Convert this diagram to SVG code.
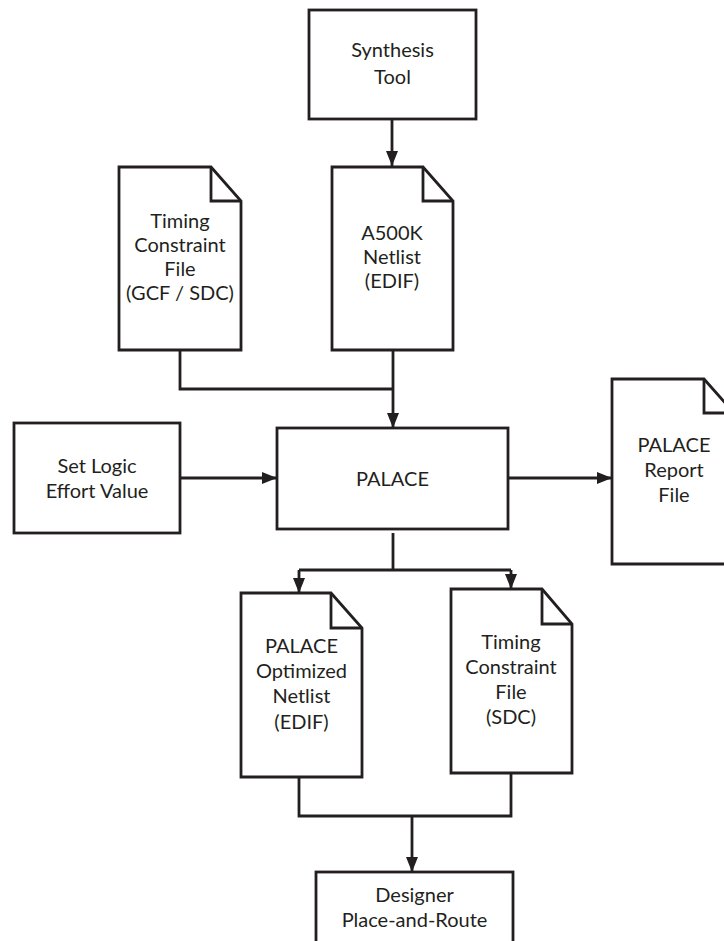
<svg xmlns="http://www.w3.org/2000/svg" width="724" height="941" viewBox="0 0 724 941">
<defs>
<style>
.box{fill:#fff;stroke:#231f20;stroke-width:2.8}
.fold{fill:none;stroke:#231f20;stroke-width:2.8}
.t{font-family:Lato,"Open Sans",sans-serif;font-size:20px;fill:#231f20;text-anchor:middle}
.c{fill:none;stroke:#231f20;stroke-width:2.8}
</style>
<marker id="ah" markerUnits="userSpaceOnUse" markerWidth="15" markerHeight="12" refX="15" refY="6" orient="auto">
<path d="M0,0 L15,6 L0,12 Z" fill="#231f20"/>
</marker>
</defs>
<rect width="724" height="941" fill="#fff"/>
<g id="connectors">
<path class="c" d="M392,119 V166" marker-end="url(#ah)"/>
<path class="c" d="M180,350 V389 H393"/>
<path class="c" d="M393,350 V428" marker-end="url(#ah)"/>
<path class="c" d="M180,478 H277" marker-end="url(#ah)"/>
<path class="c" d="M508,478 H612" marker-end="url(#ah)"/>
<path class="c" d="M393,533 V570"/>
<path class="c" d="M299,570 H511"/>
<path class="c" d="M299,570 V593" marker-end="url(#ah)"/>
<path class="c" d="M511,570 V589" marker-end="url(#ah)"/>
<path class="c" d="M299,777 V816 H511 V773"/>
<path class="c" d="M412,816 V872" marker-end="url(#ah)"/>
</g>
<g id="synthesis">
<rect class="box" x="309" y="10" width="167" height="109"/>
<text class="t" x="392.5" y="57">Synthesis</text>
<text class="t" x="392.5" y="84">Tool</text>
</g>
<g id="timing-gcf">
<path class="box" d="M119,167 H211 L241,201 V350 H119 Z"/>
<path class="fold" d="M211,167 V201 H241"/>
<text class="t" x="180" y="228">Timing</text>
<text class="t" x="180" y="252">Constraint</text>
<text class="t" x="180" y="276">File</text>
<text class="t" x="180" y="300">(GCF / SDC)</text>
</g>
<g id="netlist">
<path class="box" d="M332,167 H423 L453,201 V350 H332 Z"/>
<path class="fold" d="M423,167 V201 H453"/>
<text class="t" x="392" y="240">A500K</text>
<text class="t" x="392" y="264">Netlist</text>
<text class="t" x="392" y="288">(EDIF)</text>
</g>
<g id="set-logic">
<rect class="box" x="14" y="423" width="166" height="110"/>
<text class="t" x="97" y="473">Set Logic</text>
<text class="t" x="97" y="498">Effort Value</text>
</g>
<g id="palace">
<rect class="box" x="277" y="428" width="231" height="101"/>
<text class="t" x="392.5" y="486">PALACE</text>
</g>
<g id="report">
<path class="box" d="M612,379 H704 L734,413 V564 H612 Z"/>
<path class="fold" d="M704,379 V413 H734"/>
<text class="t" x="674" y="452">PALACE</text>
<text class="t" x="674" y="477">Report</text>
<text class="t" x="674" y="502">File</text>
</g>
<g id="optimized">
<path class="box" d="M241,593 H331 L362,628 V777 H241 Z"/>
<path class="fold" d="M331,593 V628 H362"/>
<text class="t" x="301.5" y="653">PALACE</text>
<text class="t" x="301.5" y="678">Optimized</text>
<text class="t" x="301.5" y="703">Netlist</text>
<text class="t" x="301.5" y="729">(EDIF)</text>
</g>
<g id="timing-sdc">
<path class="box" d="M451,589 H542 L572,624 V773 H451 Z"/>
<path class="fold" d="M542,589 V624 H572"/>
<text class="t" x="511" y="649">Timing</text>
<text class="t" x="511" y="674">Constraint</text>
<text class="t" x="511" y="699">File</text>
<text class="t" x="511" y="724">(SDC)</text>
</g>
<g id="designer">
<rect class="box" x="316" y="872" width="197" height="100"/>
<text class="t" x="414.5" y="902">Designer</text>
<text class="t" x="414.5" y="927">Place-and-Route</text>
</g>
</svg>
